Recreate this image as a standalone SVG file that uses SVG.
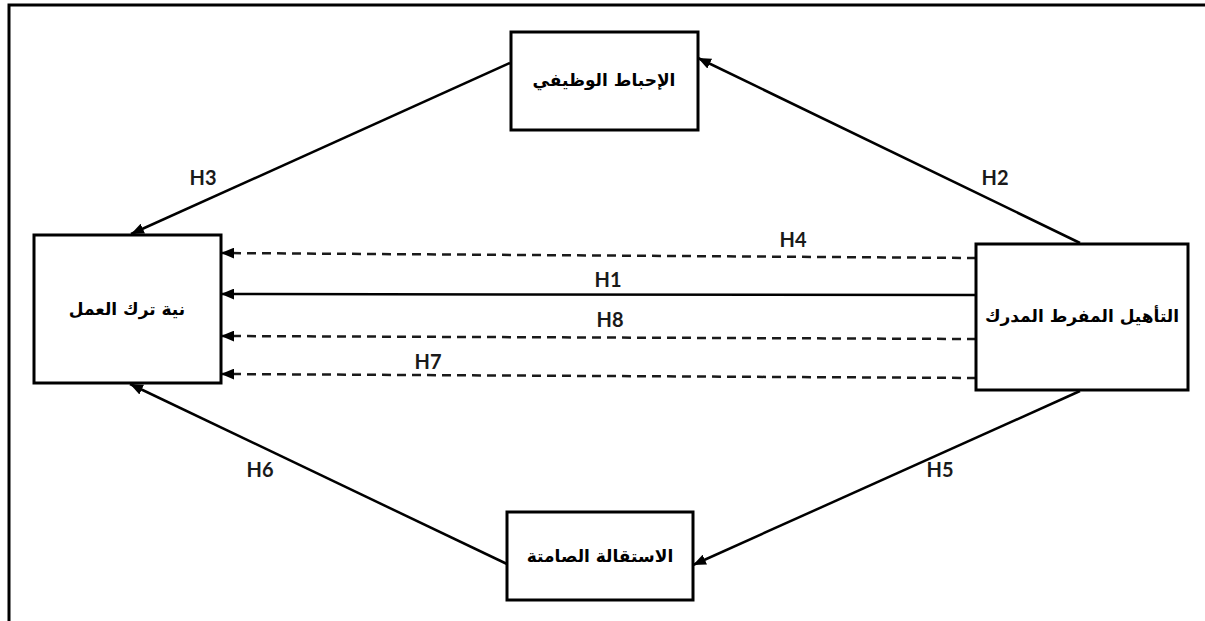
<svg xmlns="http://www.w3.org/2000/svg" width="1205" height="621" viewBox="0 0 1205 621">
<style>
.box{fill:#fff;stroke:#000;stroke-width:3}
.ar{font-family:"DejaVu Sans",sans-serif;font-weight:bold;font-size:17px;text-anchor:middle;dominant-baseline:central;fill:#000}
.lbl{font-family:Lato,"Liberation Sans",sans-serif;font-weight:bold;font-size:20px;text-anchor:middle;fill:#1a1a1a}
.ln{stroke:#000;stroke-width:2.5;fill:none;marker-end:url(#ah)}
.ds{stroke:#1a1a1a;stroke-width:2.5;fill:none;stroke-dasharray:9 6;marker-end:url(#ah)}
</style>
<defs>
<marker id="ah" viewBox="0 0 12 10" refX="12" refY="5" markerWidth="13" markerHeight="11" orient="auto" markerUnits="userSpaceOnUse">
<path d="M0,0 L12,5 L0,10 z" fill="#000"/>
</marker>
</defs>
<rect width="1205" height="621" fill="#fff"/>
<path d="M9,621 V5 H1205" fill="none" stroke="#000" stroke-width="3"/>
<g id="connectors">
<line class="ln" x1="510" y1="63" x2="131" y2="234"/>
<line class="ln" x1="1080" y1="243" x2="698" y2="58"/>
<line class="ln" x1="1080" y1="391" x2="693" y2="565"/>
<line class="ln" x1="507" y1="564" x2="130" y2="384"/>
<line class="ds" x1="976" y1="258" x2="221" y2="253"/>
<line class="ln" x1="976" y1="295" x2="221" y2="294"/>
<line class="ds" x1="976" y1="339" x2="221" y2="336"/>
<line class="ds" x1="976" y1="378" x2="221" y2="374"/>
<text class="lbl" x="203" y="185">H3</text>
<text class="lbl" x="995" y="185">H2</text>
<text class="lbl" x="793" y="247">H4</text>
<text class="lbl" x="608" y="287">H1</text>
<text class="lbl" x="610" y="327">H8</text>
<text class="lbl" x="428" y="369">H7</text>
<text class="lbl" x="260" y="477">H6</text>
<text class="lbl" x="940" y="477">H5</text>
</g>
<g id="top">
<rect class="box" x="511" y="32" width="187" height="98"/>
<text class="ar" x="604" y="80">الإحباط الوظيفي</text>
</g>
<g id="left">
<rect class="box" x="34" y="235" width="187" height="148"/>
<text class="ar" x="127" y="309">نية ترك العمل</text>
</g>
<g id="right">
<rect class="box" x="976" y="244" width="212" height="146"/>
<text class="ar" x="1082" y="316">التأهيل المفرط المدرك</text>
</g>
<g id="bottom">
<rect class="box" x="507" y="512" width="186" height="88"/>
<text class="ar" x="600" y="556">الاستقالة الصامتة</text>
</g>
</svg>
